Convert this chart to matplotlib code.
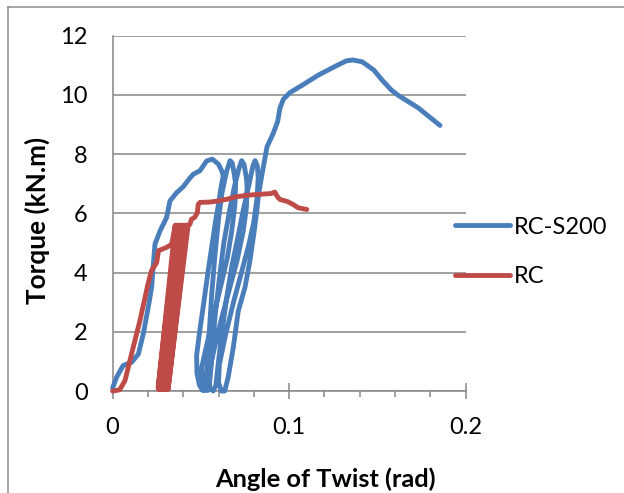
import matplotlib
matplotlib.use("Agg")
import matplotlib.pyplot as plt
from matplotlib.lines import Line2D
from matplotlib.ticker import FixedLocator, MultipleLocator

plt.rcParams['font.family'] = ['Lato', 'DejaVu Sans']

# ---------------- data ----------------
x_ticks = [0, 0.1, 0.2]
x_tick_labels = ["0", "0.1", "0.2"]
y_ticks = [0, 2, 4, 6, 8, 10, 12]
y_tick_labels = ["0", "2", "4", "6", "8", "10", "12"]

series_names = ["RC-S200", "RC"]

rc_s200_angle = [
    0.000, 0.0023, 0.006, 0.0108, 0.0146, 0.0174, 0.0202, 0.0221, 0.0231, 0.024,
    0.0269, 0.0306, 0.0325, 0.0363, 0.040, 0.0439, 0.0457, 0.0495, 0.0533, 0.0565,
    0.060, 0.0618, 0.0627,
    0.0615, 0.060, 0.0585, 0.0565, 0.054, 0.0517, 0.0493, 0.0476, 0.0478, 0.0492, 0.051,
    0.0525, 0.0535, 0.0548, 0.0562, 0.058, 0.060, 0.062, 0.0645, 0.0665, 0.0678, 0.069, 0.0697,
    0.0693, 0.0675, 0.065, 0.0615, 0.0575, 0.0535, 0.0505, 0.0505, 0.052, 0.054,
    0.055, 0.0565, 0.058, 0.0605, 0.063, 0.066, 0.069, 0.0715, 0.0731, 0.0745, 0.0758, 0.0762,
    0.0758, 0.074, 0.0705, 0.066, 0.0615, 0.0575, 0.0545, 0.055, 0.057,
    0.0585, 0.060, 0.062, 0.0645, 0.0675, 0.071, 0.074, 0.077, 0.0795, 0.0807, 0.082, 0.0825,
    0.0818, 0.080, 0.077, 0.073, 0.0685, 0.064, 0.0605, 0.060, 0.0615, 0.0635,
    0.0655, 0.0684, 0.0712, 0.075, 0.0778, 0.080, 0.0816, 0.0826, 0.0845, 0.0875,
    0.091, 0.0935, 0.0948, 0.0967, 0.1005, 0.1075, 0.1166, 0.1256, 0.1324, 0.136,
    0.1414, 0.148, 0.1527, 0.158, 0.1617, 0.173, 0.1855,
]
rc_s200_torque = [
    0.10, 0.47, 0.86, 0.97, 1.25, 1.93, 2.83, 3.50, 4.29, 4.96,
    5.41, 5.86, 6.42, 6.70, 6.90, 7.20, 7.32, 7.44, 7.77, 7.83,
    7.66, 7.44, 7.27,
    6.90, 6.30, 5.80, 5.00, 4.00, 3.00, 2.00, 1.20, 0.60, 0.20, 0.02,
    0.10, 0.80, 2.00, 3.30, 4.60, 5.80, 6.70, 7.40, 7.78, 7.70, 7.30, 7.00,
    6.30, 5.40, 4.50, 3.60, 2.60, 1.60, 0.80, 0.25, 0.02, 0.02,
    0.30, 1.30, 2.50, 3.80, 5.00, 6.00, 6.90, 7.50, 7.78, 7.65, 7.20, 6.90,
    6.20, 5.40, 4.40, 3.40, 2.40, 1.40, 0.60, 0.10, 0.00,
    0.20, 1.00, 2.00, 3.10, 4.20, 5.20, 6.10, 6.90, 7.60, 7.78, 7.60, 7.20,
    6.50, 5.70, 4.90, 4.00, 3.00, 1.90, 0.90, 0.30, 0.00, 0.00,
    0.47, 1.48, 2.70, 3.50, 4.40, 5.30, 6.03, 6.60, 7.27, 8.25,
    8.70, 9.10, 9.55, 9.85, 10.08, 10.33, 10.67, 10.95, 11.15, 11.18,
    11.12, 10.84, 10.50, 10.16, 9.99, 9.57, 8.97,
]

rc_angle = [
    0.000, 0.004, 0.007, 0.0117, 0.0155, 0.020, 0.022, 0.025, 0.026, 0.0306, 0.0335,
    0.0355, 0.0258, 0.0362, 0.0262, 0.0368, 0.0266, 0.0374, 0.0270, 0.0380, 0.0275,
    0.0386, 0.0280, 0.0392, 0.0285, 0.0398, 0.0290, 0.0404, 0.0296, 0.0410, 0.0302,
    0.0416, 0.0308, 0.0422, 0.0314, 0.0428,
    0.0438, 0.0447, 0.0466, 0.048, 0.0485, 0.0495, 0.055, 0.060, 0.065, 0.070,
    0.075, 0.080, 0.085, 0.090, 0.0919, 0.0935, 0.0948, 0.099, 0.1023, 0.105, 0.110,
]
rc_torque = [
    0.00, 0.04, 0.35, 1.48, 2.38, 3.60, 4.06, 4.34, 4.74, 4.85, 4.96,
    5.60, 0.10, 5.60, 0.05, 5.60, 0.10, 5.60, 0.05, 5.60, 0.10,
    5.60, 0.05, 5.60, 0.10, 5.60, 0.05, 5.60, 0.10, 5.60, 0.05,
    5.60, 0.10, 5.60, 0.05, 5.60,
    5.63, 5.80, 5.87, 6.02, 6.30, 6.37, 6.38, 6.42, 6.48, 6.56,
    6.60, 6.63, 6.65, 6.67, 6.72, 6.55, 6.47, 6.40, 6.30, 6.19, 6.13,
]

blue = "#4A7EBB"
red = "#BE4B48"
grid_grey = "#868686"

# ---------------- figure ----------------
W, H = 624, 493
fig = plt.figure(figsize=(W / 100, H / 100), dpi=100)
ax_left, ax_right = 112.6 / W, 465.6 / W
ax_bottom, ax_top = 1 - 391.0 / H, 1 - 35.7 / H
ax = fig.add_axes([ax_left, ax_bottom, ax_right - ax_left, ax_top - ax_bottom])
ax_w_px = (ax_right - ax_left) * W
ax_h_px = (ax_top - ax_bottom) * H

ax.plot(rc_s200_angle, rc_s200_torque, color=blue, lw=3.5, label=series_names[0],
        solid_joinstyle='round', solid_capstyle='round', clip_on=False, zorder=3)
ax.plot(rc_angle, rc_torque, color=red, lw=3.5, label=series_names[1],
        solid_joinstyle='round', solid_capstyle='round', clip_on=False, zorder=4)

ax.set_xlim(0, 0.2)
ax.set_ylim(0, 12)

ax.xaxis.set_major_locator(FixedLocator(x_ticks))
ax.set_xticklabels(x_tick_labels)
ax.xaxis.set_minor_locator(MultipleLocator(0.02))
ax.yaxis.set_major_locator(FixedLocator(y_ticks))
ax.set_yticklabels(y_tick_labels)

ax.grid(axis='y', color=grid_grey, lw=1.1)
ax.set_axisbelow(True)
for s in ['top', 'right']:
    ax.spines[s].set_visible(False)
for s in ['left', 'bottom']:
    ax.spines[s].set_color(grid_grey)
    ax.spines[s].set_linewidth(1.1)

ax.tick_params(axis='x', which='major', direction='inout', length=11, width=1.1,
               color=grid_grey, labelsize=17, pad=13, labelcolor='black')
ax.tick_params(axis='x', which='minor', direction='out', length=4, width=1.1,
               color=grid_grey)
ax.tick_params(axis='y', which='both', length=0, labelsize=17, pad=18, labelcolor='black')

ax.set_xlabel("Angle of Twist (rad)", fontsize=18.3, fontweight='bold')
ax.set_ylabel("Torque (kN.m)", fontsize=18.8, fontweight='bold')
ax.xaxis.label.set_va('center')
ax.yaxis.label.set_va('center')
xl_pos = [(325 - 112.6) / ax_w_px, (391 - 479) / ax_h_px]
yl_pos = [(37.5 - 112.6) / ax_w_px, (391 - 220) / ax_h_px]
ax.xaxis.set_label_coords(*xl_pos)
ax.yaxis.set_label_coords(*yl_pos)

leg = ax.legend(loc='center left', bbox_to_anchor=(455 / W, 1 - 251.7 / H),
                bbox_transform=fig.transFigure, frameon=False, fontsize=17,
                handlelength=2.33, handletextpad=0.17, labelspacing=1.2,
                borderpad=0, borderaxespad=0)
for ln in leg.get_lines():
    ln.set_linewidth(3.5)
    ln.set_solid_capstyle('round')

# fine-tune axis-label placement so their extents are centred where the reference has them
fig.canvas.draw()
r = fig.canvas.get_renderer()
bb = ax.xaxis.label.get_window_extent(r)
xl_pos[0] += (325 - (bb.x0 + bb.x1) / 2) / ax_w_px
xl_pos[1] += ((H - 479) - (bb.y0 + bb.y1) / 2) / ax_h_px
bb = ax.yaxis.label.get_window_extent(r)
yl_pos[0] += (37.5 - (bb.x0 + bb.x1) / 2) / ax_w_px
yl_pos[1] += ((H - 220) - (bb.y0 + bb.y1) / 2) / ax_h_px
ax.xaxis.set_label_coords(*xl_pos)
ax.yaxis.set_label_coords(*yl_pos)

# outer chart border (partially visible in reference)
bx, by = 8.3 / W, 1 - 6.7 / H
fig.add_artist(Line2D([bx, bx], [by, 0], transform=fig.transFigure,
                      color="#8c8c8c", lw=1.1))
fig.add_artist(Line2D([bx, 1], [by, by], transform=fig.transFigure,
                      color="#8c8c8c", lw=1.1))

fig.savefig("out.png", dpi=100)
